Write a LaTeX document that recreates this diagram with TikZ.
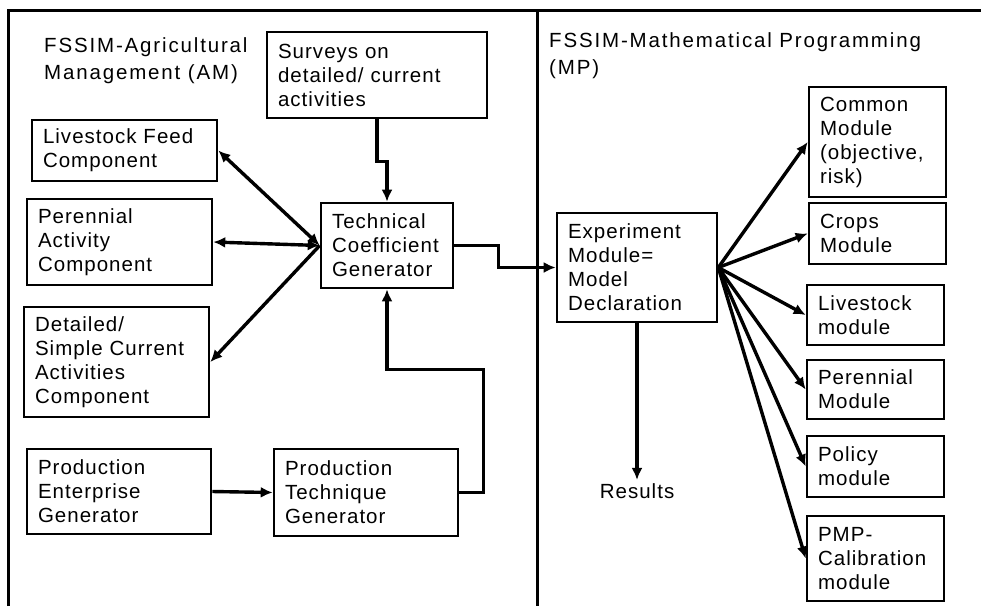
\documentclass[tikz,border=0pt]{standalone}
\usepackage{fontspec}
\setmainfont[LetterSpace=5]{Liberation Sans}
\usetikzlibrary{arrows.meta}

\begin{document}
\begin{tikzpicture}[x=1pt,y=-1pt,font=\fontsize{20.5}{24}\selectfont,
  blk/.style={draw,line width=2.6pt,align=left,inner xsep=11pt,inner ysep=0pt},
  arr/.style={line width=3.4pt,-{Latex[length=12pt,width=11pt]}},
  dbl/.style={line width=3.4pt,{Latex[length=12pt,width=11pt]}-{Latex[length=12pt,width=11pt]}},
  hdr/.style={anchor=north west,inner sep=0pt,align=left,
    font=\fontsize{20.5}{27}\selectfont\addfontfeature{LetterSpace=9}}]
  \useasboundingbox (0,0) rectangle (981,606);
  \draw[line width=3pt] (8,606) -- (8,10) -- (981,10);
  \draw[line width=3pt] (537,10) -- (537,606);
  \node[hdr] (amhdr) at (44,37) {FSSIM-Agricultural\\Management (AM)};
  \node[hdr] (mphdr) at (549,32) {FSSIM-Mathematical Programming\\(MP)};

  \node[blk,text width=198pt,minimum height=86pt] (surv) at (377,75) {Surveys on\\detailed/ current\\activities};
  \node[blk,text width=163pt,minimum height=61pt] (feed) at (124.5,150.5) {Livestock Feed\\Component};
  \node[blk,text width=163pt,minimum height=86pt] (pere) at (119.5,242) {Perennial\\Activity\\Component};
  \node[blk,text width=110pt,minimum height=85pt] (tcg) at (387,245.5) {Technical\\Coefficient\\Generator};
  \node[blk,text width=163pt,minimum height=110pt] (detl) at (116.5,362) {Detailed/\\Simple Current\\Activities\\Component};
  \node[blk,text width=162pt,minimum height=85pt] (peg) at (119,491.5) {Production\\Enterprise\\Generator};
  \node[blk,text width=162pt,minimum height=87pt] (ptg) at (366,492.5) {Production\\Technique\\Generator};

  \node[blk,text width=138pt,minimum height=109pt] (exp) at (637,267.5) {Experiment\\Module=\\Model\\Declaration};
  \node[blk,text width=115pt,minimum height=110pt] (comm) at (877.5,142) {Common\\Module\\(objective,\\risk)};
  \node[blk,text width=115pt,minimum height=61pt] (crop) at (877.5,233.5) {Crops\\Module};
  \node[blk,text width=115pt,minimum height=60pt] (lvst) at (875.5,315) {Livestock\\module};
  \node[blk,text width=115pt,minimum height=59pt] (perm) at (875.5,389.5) {Perennial\\Module};
  \node[blk,text width=115pt,minimum height=61pt] (plcy) at (875.5,466.5) {Policy\\module};
  \node[blk,text width=115pt,minimum height=85pt] (pmp) at (875.5,558.5) {PMP-\\Calibration\\module};
  \node (res) at (637,491) {Results};

  \draw[arr] (surv.south) -- ++(0,42) -| (tcg.north);
  \draw[dbl] (feed.east) -- (tcg.west);
  \draw[dbl] (pere.east) -- (tcg.west);
  \draw[arr] (tcg.west) -- (detl.east);
  \draw[arr] (peg.east) -- (ptg.west);
  \draw[arr] (ptg.east) -- ++(24,0) -- ++(0,-123) -| (tcg.south);
  \draw[arr] (tcg.east) -- ++(44,0) |- (exp.west);
  \foreach \m in {comm,crop,lvst,perm,plcy,pmp}
    \draw[arr] (exp.east) -- (\m.west);
  \draw[arr] (exp.south) -- (res.north);
\end{tikzpicture}
\end{document}
